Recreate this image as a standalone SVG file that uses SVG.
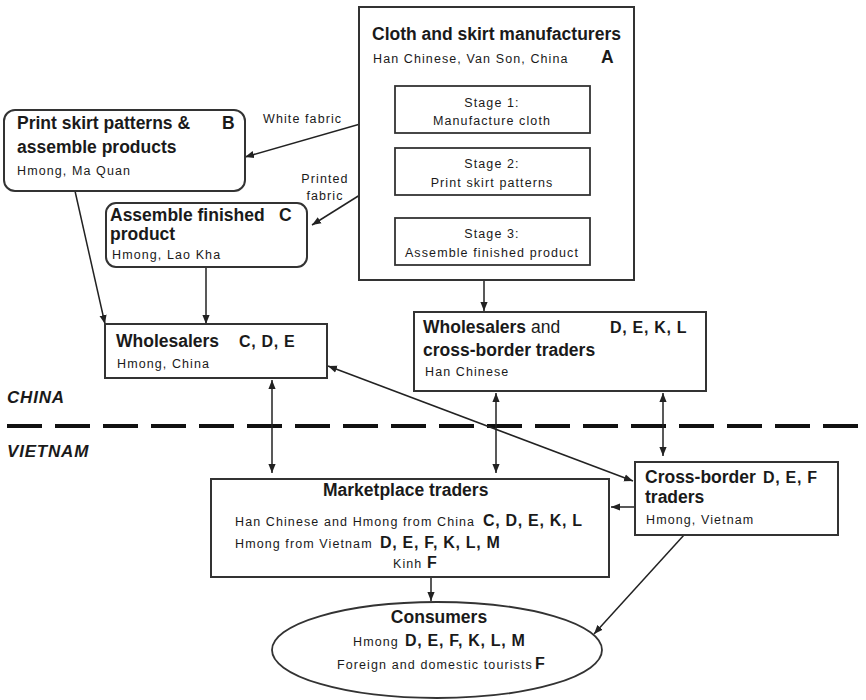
<svg xmlns="http://www.w3.org/2000/svg" width="866" height="700" viewBox="0 0 866 700">
<defs>
<marker id="ah" viewBox="0 0 10 10" refX="10" refY="5" markerWidth="9" markerHeight="9" markerUnits="userSpaceOnUse" orient="auto-start-reverse">
<path d="M0,1 L10,5 L0,9 z" fill="#222"/>
</marker>
<style>
text{font-family:"Liberation Sans",Arial,sans-serif;fill:#1a1a1a}
.t{font-size:17.5px;font-weight:bold}
.s{font-size:12.5px;letter-spacing:1.1px}
.st{font-size:12.5px;letter-spacing:1.1px;text-anchor:middle}
.l{font-size:16px;font-weight:bold;letter-spacing:0.7px}
.c{font-size:17px;font-weight:bold;font-style:italic;letter-spacing:0.8px}
.box{fill:#fff;stroke:#333;stroke-width:2}
.sbox{fill:#fff;stroke:#333;stroke-width:1.8}
.ln{fill:none;stroke:#222;stroke-width:1.5}
.arr{fill:none;stroke:#222;stroke-width:1.5;marker-end:url(#ah)}
.dbl{fill:none;stroke:#222;stroke-width:1.5;marker-start:url(#ah);marker-end:url(#ah)}
</style>
</defs>
<rect width="866" height="700" fill="#fff"/>

<g id="border">
<line x1="7" y1="426" x2="866" y2="426" stroke="#111" stroke-width="4" stroke-dasharray="35 13"/>
<text class="c" x="7" y="403">CHINA</text>
<text class="c" x="7" y="457">VIETNAM</text>
</g>

<g id="connectors">
<line class="ln" x1="484" y1="133" x2="484" y2="148"/>
<line class="ln" x1="484" y1="195" x2="484" y2="218"/>
<line class="arr" x1="395" y1="114" x2="245" y2="157"/>
<line class="arr" x1="395" y1="173" x2="312" y2="225"/>
<line class="arr" x1="75" y1="191" x2="105" y2="324"/>
<line class="arr" x1="206" y1="267" x2="206" y2="324"/>
<line class="arr" x1="484" y1="280" x2="484" y2="311"/>
<line class="dbl" x1="272" y1="380" x2="272" y2="473"/>
<line class="dbl" x1="496" y1="393" x2="496" y2="473"/>
<line class="dbl" x1="663" y1="393" x2="663" y2="456"/>
<line class="dbl" x1="328" y1="366" x2="633" y2="481"/>
<line class="arr" x1="635" y1="507" x2="611" y2="507"/>
<line class="arr" x1="431" y1="577" x2="431" y2="601"/>
<line class="arr" x1="684" y1="535" x2="594" y2="634"/>
<text class="s" x="263" y="123">White fabric</text>
<text class="st" x="325" y="183">Printed</text>
<text class="st" x="325" y="200">fabric</text>
</g>

<g id="nodeA">
<rect class="box" x="359" y="7" width="275" height="273"/>
<text class="t" x="372" y="40">Cloth and skirt manufacturers</text>
<text class="s" x="373" y="63">Han Chinese, Van Son, China</text>
<text class="t" x="601" y="63">A</text>
</g>

<g id="stage1">
<rect class="sbox" x="395" y="86" width="195" height="47"/>
<text class="st" x="492" y="107">Stage 1:</text>
<text class="st" x="492" y="125">Manufacture cloth</text>
</g>
<g id="stage2">
<rect class="sbox" x="395" y="148" width="195" height="47"/>
<text class="st" x="492" y="168">Stage 2:</text>
<text class="st" x="492" y="187">Print skirt patterns</text>
</g>
<g id="stage3">
<rect class="sbox" x="395" y="218" width="195" height="47"/>
<text class="st" x="492" y="238">Stage 3:</text>
<text class="st" x="492" y="257">Assemble finished product</text>
</g>

<g id="nodeB">
<rect class="box" x="4" y="110" width="241" height="81" rx="11"/>
<text class="t" x="17" y="129">Print skirt patterns &amp;</text>
<text class="t" x="17" y="153">assemble products</text>
<text class="t" x="222" y="129">B</text>
<text class="s" x="17" y="175">Hmong, Ma Quan</text>
</g>

<g id="nodeC">
<rect class="box" x="106" y="203" width="201" height="64" rx="10"/>
<text class="t" x="110" y="221">Assemble finished</text>
<text class="t" x="110" y="240">product</text>
<text class="t" x="279" y="221">C</text>
<text class="s" x="112" y="259">Hmong, Lao Kha</text>
</g>

<g id="wholesalersHmong">
<rect class="box" x="105" y="324" width="222" height="54"/>
<text class="t" x="116" y="347">Wholesalers</text>
<text class="l" x="239" y="347">C, D, E</text>
<text class="s" x="117" y="368">Hmong, China</text>
</g>

<g id="wholesalersHan">
<rect class="box" x="414" y="312" width="292" height="79"/>
<text class="t" x="423" y="333">Wholesalers<tspan font-weight="normal"> and</tspan></text>
<text class="l" x="610" y="333">D, E, K, L</text>
<text class="t" x="423" y="356">cross-border traders</text>
<text class="s" x="425" y="376">Han Chinese</text>
</g>

<g id="crossBorder">
<rect class="box" x="635" y="462" width="203" height="73"/>
<text class="t" x="645" y="483">Cross-border</text>
<text class="l" x="763" y="483">D, E, F</text>
<text class="t" x="645" y="503">traders</text>
<text class="s" x="646" y="524">Hmong, Vietnam</text>
</g>

<g id="marketplace">
<rect class="box" x="211" y="479" width="398" height="98"/>
<text class="t" x="323" y="496">Marketplace traders</text>
<text class="s" x="235" y="526">Han Chinese and Hmong from China</text>
<text class="l" x="483" y="526">C, D, E, K, L</text>
<text class="s" x="235" y="548">Hmong from Vietnam</text>
<text class="l" x="380" y="548">D, E, F, K, L, M</text>
<text class="s" x="393" y="568">Kinh</text>
<text class="l" x="427" y="568">F</text>
</g>

<g id="consumers">
<ellipse cx="437" cy="650" rx="165" ry="48" fill="#fff" stroke="#333" stroke-width="1.8"/>
<text class="t" x="439" y="623" text-anchor="middle">Consumers</text>
<text class="s" x="353" y="646">Hmong</text>
<text class="l" x="405" y="646">D, E, F, K, L, M</text>
<text class="s" x="337" y="669">Foreign and domestic tourists</text>
<text class="l" x="535" y="669">F</text>
</g>
</svg>
